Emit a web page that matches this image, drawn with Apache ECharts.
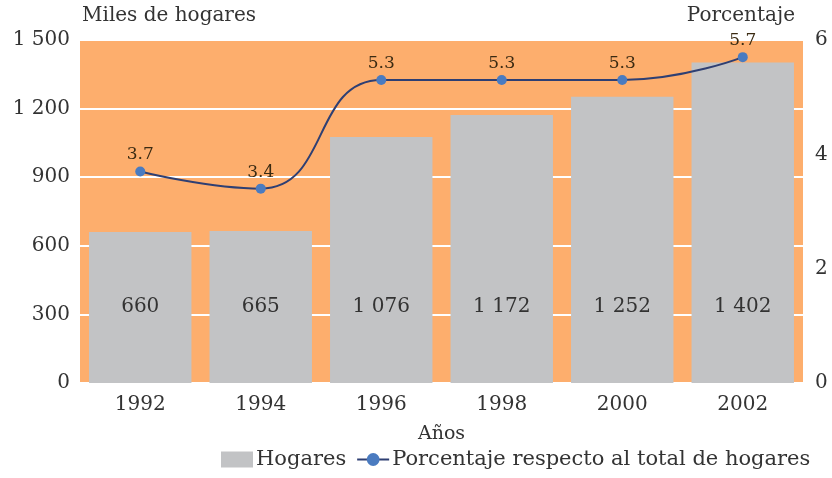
<!DOCTYPE html>
<html>
<head>
<meta charset="utf-8">
<script src="https://cdn.jsdelivr.net/npm/echarts@6/dist/echarts.min.js"></script>
<style>
  html, body { margin: 0; padding: 0; background: #fff; }
  #chart { width: 832px; height: 478px; }
</style>
</head>
<body>
<div id="chart"></div>
<script>
// datos
var years = ['1992', '1994', '1996', '1998', '2000', '2002']
var hogares = [660, 665, 1076, 1172, 1252, 1402]
var porcentaje = [3.7, 3.4, 5.3, 5.3, 5.3, 5.7]

var serif = '"DejaVu Serif", "Liberation Serif", serif'

function fmtMiles(v) {
  // separador de miles con espacio
  return String(v).replace(/\B(?=(\d{3})+(?!\d))/g, ' ')
}

var chart = echarts.init(document.getElementById('chart'))
chart.setOption({
  animation: false,
  textStyle: { fontFamily: serif },
  grid: { left: 80, right: 29, top: 40, bottom: 95, show: true, backgroundColor: '#FDAE6D', borderWidth: 0 },
  legend: {
    bottom: 3,
    left: 216,
    itemGap: 10,
    itemWidth: 32,
    itemHeight: 16,
    textStyle: { fontFamily: serif, fontSize: 21, color: '#333', padding: [0, 0, 0, -2] },
    data: [
      { name: 'Hogares', icon: 'rect' },
      { name: 'Porcentaje respecto al total de hogares' }
    ]
  },
  xAxis: {
    type: 'category',
    data: years,
    name: 'Años',
    nameLocation: 'middle',
    nameGap: 42,
    nameTextStyle: { fontFamily: serif, fontSize: 19, color: '#333' },
    axisLine: { show: false },
    axisTick: { show: false },
    axisLabel: { fontFamily: serif, fontSize: 20, color: '#333', margin: 12 }
  },
  yAxis: [
    {
      type: 'value',
      min: 0,
      max: 1500,
      interval: 300,
      name: 'Miles de hogares',
      nameLocation: 'end',
      nameGap: 14,
      nameTextStyle: { fontFamily: serif, fontSize: 20, color: '#333', align: 'left', padding: [0, 0, 0, 2] },
      axisLine: { show: false },
      axisTick: { show: false },
      axisLabel: { fontFamily: serif, fontSize: 20, color: '#333', margin: 10, formatter: fmtMiles },
      splitLine: { show: true, lineStyle: { color: '#ffffff', width: 2 } }
    },
    {
      type: 'value',
      min: 0,
      max: 6,
      interval: 2,
      name: 'Porcentaje',
      nameLocation: 'end',
      nameGap: 14,
      nameTextStyle: { fontFamily: serif, fontSize: 20, color: '#333', align: 'right', padding: [0, 8, 0, 0] },
      axisLine: { show: false },
      axisTick: { show: false },
      axisLabel: { fontFamily: serif, fontSize: 20, color: '#333', margin: 12 },
      splitLine: { show: false }
    }
  ],
  series: [
    {
      name: 'Hogares',
      type: 'bar',
      yAxisIndex: 0,
      data: hogares,
      barCategoryGap: '15%',
      itemStyle: { color: '#C2C3C5' },
      label: {
        show: true,
        position: 'insideBottom',
        distance: 66,
        fontFamily: serif,
        fontSize: 20,
        color: '#333',
        formatter: function (p) { return fmtMiles(p.value) }
      }
    },
    {
      name: 'Porcentaje respecto al total de hogares',
      type: 'line',
      yAxisIndex: 1,
      data: porcentaje,
      smooth: 0.5,
      symbol: 'circle',
      symbolSize: 10,
      lineStyle: { color: '#2E3F73', width: 2 },
      itemStyle: { color: '#4A7BC0' },
      label: {
        show: true,
        position: 'top',
        distance: 3,
        fontFamily: serif,
        fontSize: 17,
        color: '#3a2a12',
        formatter: function (p) { return p.value.toFixed(1) }
      }
    }
  ]
})
</script>
</body>
</html>
